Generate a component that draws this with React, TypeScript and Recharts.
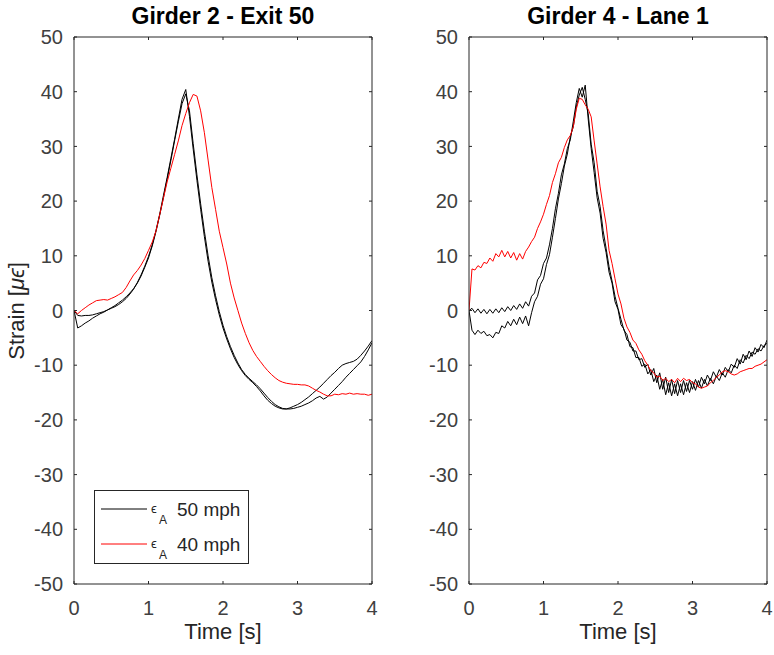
import React from 'react'
import { LineChart, Line, XAxis, YAxis } from 'recharts'

// Girder 2 - Exit 50, sampled every 0.05 s
const G2_TIME = [
  0, 0.05, 0.1, 0.15, 0.2, 0.25, 0.3, 0.35, 0.4, 0.45,
  0.5, 0.55, 0.6, 0.65, 0.7, 0.75, 0.8, 0.85, 0.9, 0.95,
  1, 1.05, 1.1, 1.15, 1.2, 1.25, 1.3, 1.35, 1.4, 1.45,
  1.5, 1.55, 1.6, 1.65, 1.7, 1.75, 1.8, 1.85, 1.9, 1.95,
  2, 2.05, 2.1, 2.15, 2.2, 2.25, 2.3, 2.35, 2.4, 2.45,
  2.5, 2.55, 2.6, 2.65, 2.7, 2.75, 2.8, 2.85, 2.9, 2.95,
  3, 3.05, 3.1, 3.15, 3.2, 3.25, 3.3, 3.35, 3.4, 3.45,
  3.5, 3.55, 3.6, 3.65, 3.7, 3.75, 3.8, 3.85, 3.9, 3.95,
  4,
]
const G2_FAST_1 = [
  0, -0.9, -1.0, -0.9, -0.9, -0.8, -0.6, -0.4, -0.2, 0.1,
  0.4, 0.7, 1.1, 1.6, 2.2, 3.0, 3.9, 5.1, 6.5, 8.1,
  9.9, 12.0, 14.6, 17.6, 21.0, 24.3, 27.8, 31.3, 35.0, 38.6,
  40.4, 35.5, 29.5, 23.8, 18.5, 13.5, 9.0, 5.2, 2.0, -0.8,
  -3.2, -5.2, -7.0, -8.6, -9.9, -11.0, -11.9, -12.6, -13.2, -13.9,
  -14.7, -15.6, -16.4, -17.0, -17.5, -17.8, -18.0, -18.0, -17.8, -17.5,
  -17.2, -16.8, -16.3, -15.8, -15.2, -14.6, -14.0, -13.3, -12.6, -11.9,
  -11.3, -10.6, -10.0, -9.7, -9.5, -9.3, -8.9, -8.2, -7.4, -6.5,
  -5.5,
]
const G2_FAST_2 = [
  0, -3.2, -2.8, -2.3, -1.9, -1.4, -1.0, -0.6, -0.3, 0.1,
  0.5, 0.9, 1.4, 1.9, 2.5, 3.2, 4.0, 5.0, 6.3, 7.9,
  9.6, 11.8, 14.4, 17.4, 20.6, 24.0, 27.4, 31.0, 34.5, 37.8,
  39.6, 36.5, 30.5, 24.8, 19.5, 14.5, 10.0, 6.0, 2.7, -0.2,
  -2.7, -4.8, -6.6, -8.2, -9.6, -10.8, -11.7, -12.4, -13.0, -13.6,
  -14.3, -15.1, -15.9, -16.6, -17.2, -17.6, -17.9, -18.0, -18.0, -17.9,
  -17.7, -17.5, -17.2, -16.9, -16.5, -16.0, -15.7, -16.2, -15.8, -15.1,
  -14.4, -13.7, -13.0, -12.2, -11.5, -10.8, -10.1, -9.4, -8.4, -7.2,
  -5.9,
]
const G2_SLOW = [
  0, -0.6, 0.0, 0.5, 1.0, 1.4, 1.8, 1.9, 2.0, 1.9,
  2.2, 2.5, 2.9, 3.3, 4.2, 5.4, 6.5, 7.3, 8.3, 9.5,
  11.0, 12.5, 14.5, 17.5, 20.5, 23.5, 26.0, 28.5, 31.0, 33.8,
  36.0, 38.0, 39.5, 39.2, 36.5, 32.5, 27.5, 22.5, 18.5, 14.5,
  11.5, 8.5, 5.0, 2.3, 0.0, -2.3, -4.2, -5.9, -7.3, -8.4,
  -9.3, -10.2, -11.0, -11.7, -12.3, -12.8, -13.1, -13.3, -13.4, -13.5,
  -13.5, -13.6, -13.6, -13.8, -14.2, -14.6, -14.9, -15.3, -15.6, -15.6,
  -15.3, -15.4, -15.2, -15.3, -15.1, -15.3, -15.2, -15.3, -15.3, -15.5,
  -15.3,
]

// Girder 4 - Lane 1, sampled every 0.04 s
const G4_TIME = [
  0, 0.04, 0.08, 0.12, 0.16, 0.2, 0.24, 0.28, 0.32, 0.36,
  0.4, 0.44, 0.48, 0.52, 0.56, 0.6, 0.64, 0.68, 0.72, 0.76,
  0.8, 0.84, 0.88, 0.92, 0.96, 1, 1.04, 1.08, 1.12, 1.16,
  1.2, 1.24, 1.28, 1.32, 1.36, 1.4, 1.44, 1.48, 1.52, 1.56,
  1.6, 1.64, 1.68, 1.72, 1.76, 1.8, 1.84, 1.88, 1.92, 1.96,
  2, 2.04, 2.08, 2.12, 2.16, 2.2, 2.24, 2.28, 2.32, 2.36,
  2.4, 2.44, 2.48, 2.52, 2.56, 2.6, 2.64, 2.68, 2.72, 2.76,
  2.8, 2.84, 2.88, 2.92, 2.96, 3, 3.04, 3.08, 3.12, 3.16,
  3.2, 3.24, 3.28, 3.32, 3.36, 3.4, 3.44, 3.48, 3.52, 3.56,
  3.6, 3.64, 3.68, 3.72, 3.76, 3.8, 3.84, 3.88, 3.92, 3.96,
  4,
]
const G4_FAST_1 = [
  0, 0.4, -0.4, 0.3, -0.5, 0.2, -0.6, 0.2, -0.5, 0.3,
  -0.4, 0.5, -0.2, 0.7, 0.0, 0.9, 0.2, 1.2, 0.4, 1.6,
  0.8, 2.6, 3.2, 5.6, 6.4, 8.6, 9.6, 12.0, 15.0, 18.6,
  21.4, 24.8, 26.8, 29.6, 31.2, 34.6, 38.0, 40.6, 39.0, 41.2,
  35.0, 29.6, 25.2, 20.6, 17.8, 13.2, 10.6, 7.0, 5.0, 1.6,
  0.2, -2.6, -3.4, -5.4, -5.8, -7.4, -7.4, -9.0, -8.8, -10.4,
  -9.8, -11.8, -10.6, -13.2, -11.4, -14.4, -12.2, -15.0, -12.6, -15.2,
  -12.8, -15.0, -12.8, -14.8, -12.8, -14.4, -12.6, -14.0, -12.2, -13.4,
  -11.8, -12.8, -11.2, -12.2, -10.8, -11.8, -10.4, -11.2, -9.8, -10.4,
  -8.8, -9.8, -8.0, -9.0, -7.4, -8.4, -6.8, -7.6, -6.2, -6.8,
  -5.4,
]
const G4_FAST_2 = [
  0, -3.6, -4.4, -3.6, -4.2, -3.8, -4.6, -4.4, -5.0, -4.0,
  -4.2, -2.8, -3.2, -2.0, -2.8, -1.6, -2.6, -1.2, -2.4, -1.0,
  -2.8, -0.4, 1.6, 2.6, 4.8, 5.8, 8.4, 10.2, 13.4, 16.8,
  20.4, 23.2, 26.4, 28.6, 31.8, 33.6, 37.2, 39.4, 40.8, 38.6,
  36.0, 30.4, 27.0, 21.8, 19.0, 14.6, 11.4, 8.0, 5.4, 2.6,
  0.4, -1.6, -3.6, -4.4, -6.6, -6.8, -8.6, -8.6, -10.2, -9.8,
  -11.6, -10.8, -13.0, -11.8, -14.4, -12.6, -15.4, -13.2, -15.6, -13.4,
  -15.6, -13.4, -15.4, -13.2, -15.0, -13.0, -14.6, -12.8, -14.2, -12.6,
  -13.8, -12.4, -13.4, -12.0, -12.8, -11.4, -12.2, -10.8, -11.4, -10.0,
  -10.6, -9.0, -9.6, -8.2, -8.8, -7.6, -8.0, -7.0, -7.4, -6.4,
  -6.0,
]
const G4_SLOW = [
  0, 7.6, 7.4, 8.2, 7.8, 8.8, 8.6, 9.6, 9.0, 10.4,
  9.8, 11.0, 9.8, 10.8, 9.6, 10.6, 9.2, 10.4, 9.4, 10.8,
  11.6, 12.6, 13.4, 15.0, 16.2, 17.6, 19.4, 21.0, 23.4, 25.0,
  27.0, 28.0, 29.8, 31.2, 32.0, 33.6, 36.8, 38.8, 38.6, 37.6,
  36.8, 35.4, 31.0, 26.8, 22.6, 19.0, 15.8, 11.0, 8.6, 5.8,
  3.0, 1.2, -1.4, -3.0, -4.0, -5.4, -6.0, -7.2, -8.0, -9.2,
  -10.0, -11.0, -11.4, -12.2, -12.0, -12.8, -12.4, -13.0, -12.6, -13.2,
  -12.4, -13.0, -12.4, -12.8, -12.6, -13.2, -13.4, -14.0, -14.2, -14.0,
  -13.8, -13.2, -12.8, -12.2, -11.8, -11.2, -11.0, -11.2, -11.6, -11.8,
  -11.6, -11.2, -11.0, -10.8, -10.6, -10.6, -10.2, -10.0, -9.8, -9.4,
  -9.0,
]

const X_TICKS = [0, 1, 2, 3, 4]
const Y_TICKS = [-50, -40, -30, -20, -10, 0, 10, 20, 30, 40, 50]

const LEGEND = [
  { label: '50 mph', color: '#000000' },
  { label: '40 mph', color: '#ff0000' },
]

const AXIS = '#262626'
const TICK_TEXT = '#404040'
const FONT = '"Liberation Sans", Arial, Helvetica, sans-serif'

const toRows = (time: number[], fast1: number[], fast2: number[], slow: number[]) =>
  time.map((t, i) => ({ t, fast1: fast1[i], fast2: fast2[i], slow: slow[i] }))

const hiddenTick = () => <g />

interface PanelProps {
  title: string
  data: { t: number; fast1: number; fast2: number; slow: number }[]
  left: number
  marginLeft: number
  marginRight: number
}

function Panel({ title, data, left, marginLeft, marginRight }: PanelProps) {
  const plotCenter = marginLeft + 40 + (387 - marginLeft - marginRight - 41) / 2
  return (
    <div style={{ position: 'absolute', left, top: 0, width: 387, height: 655 }}>
      <LineChart
        width={387}
        height={655}
        data={data}
        margin={{ top: 36, right: marginRight, bottom: 41, left: marginLeft }}
      >
        <XAxis
          dataKey="t"
          type="number"
          domain={[0, 4]}
          ticks={X_TICKS}
          interval={0}
          height={30}
          stroke={AXIS}
          tickSize={-3}
          tickMargin={20}
          tick={{ fill: TICK_TEXT, fontSize: 20 }}
          allowDataOverflow
        />
        <XAxis
          xAxisId="top"
          dataKey="t"
          orientation="top"
          type="number"
          domain={[0, 4]}
          ticks={X_TICKS}
          interval={0}
          height={1}
          stroke={AXIS}
          tickSize={-3}
          tick={hiddenTick}
          allowDataOverflow
        />
        <YAxis
          type="number"
          domain={[-50, 50]}
          ticks={Y_TICKS}
          interval={0}
          width={40}
          stroke={AXIS}
          tickSize={-3}
          tickMargin={14}
          tick={{ fill: TICK_TEXT, fontSize: 20 }}
          allowDataOverflow
        />
        <YAxis
          yAxisId="right"
          orientation="right"
          type="number"
          domain={[-50, 50]}
          ticks={Y_TICKS}
          interval={0}
          width={1}
          stroke={AXIS}
          tickSize={-3}
          tick={hiddenTick}
          allowDataOverflow
        />
        <Line dataKey="fast1" stroke="#000000" strokeWidth={1} dot={false} isAnimationActive={false} />
        <Line dataKey="fast2" stroke="#000000" strokeWidth={1} dot={false} isAnimationActive={false} />
        <Line dataKey="slow" stroke="#ff0000" strokeWidth={1} dot={false} isAnimationActive={false} />
      </LineChart>
      <div
        style={{
          position: 'absolute', left: plotCenter - 150, width: 300, top: 5, textAlign: 'center',
          fontSize: 23, lineHeight: '23px', fontWeight: 'bold', color: '#000',
        }}
      >
        {title}
      </div>
      <svg style={{ position: 'absolute', left: 0, top: 615 }} width={387} height={40}>
        <text x={plotCenter} y={24} textAnchor="middle" fontSize={22} fill={AXIS}>
          Time [s]
        </text>
      </svg>
    </div>
  )
}

function Legend() {
  return (
    <svg style={{ position: 'absolute', left: 94, top: 490 }} width={155} height={75}>
      <rect x={0.5} y={0.5} width={154} height={73} fill="#fff" stroke={AXIS} strokeWidth={1} />
      {LEGEND.map((item, i) => {
        const y = 19 + i * 35
        return (
          <g key={item.label}>
            <line x1={7} x2={53} y1={y} y2={y} stroke={item.color} strokeWidth={1} />
            <text x={57} y={y + 4} fontSize={13} fill={AXIS}>ϵ</text>
            <text x={65} y={y + 15} fontSize={12} fill={AXIS}>A</text>
            <text x={83} y={y + 7} fontSize={19} fill={AXIS}>{item.label}</text>
          </g>
        )
      })}
    </svg>
  )
}

export default function App() {
  const g2 = toRows(G2_TIME, G2_FAST_1, G2_FAST_2, G2_SLOW)
  const g4 = toRows(G4_TIME, G4_FAST_1, G4_FAST_2, G4_SLOW)
  return (
    <div
      style={{
        position: 'fixed', left: 0, top: 0, width: 774, height: 655,
        background: '#fff', fontFamily: FONT, overflow: 'hidden',
      }}
    >
      <Panel title="Girder 2 - Exit 50" data={g2} left={0} marginLeft={34} marginRight={14} />
      <Panel title="Girder 4 - Lane 1" data={g4} left={387} marginLeft={42} marginRight={6} />
      <svg style={{ position: 'absolute', left: 0, top: 0 }} width={40} height={655}>
        <text transform="translate(24,311) rotate(-90)" textAnchor="middle" fontSize={22} fill={AXIS}>
          Strain [<tspan fontStyle="italic">μϵ</tspan>]
        </text>
      </svg>
      <Legend />
    </div>
  )
}
